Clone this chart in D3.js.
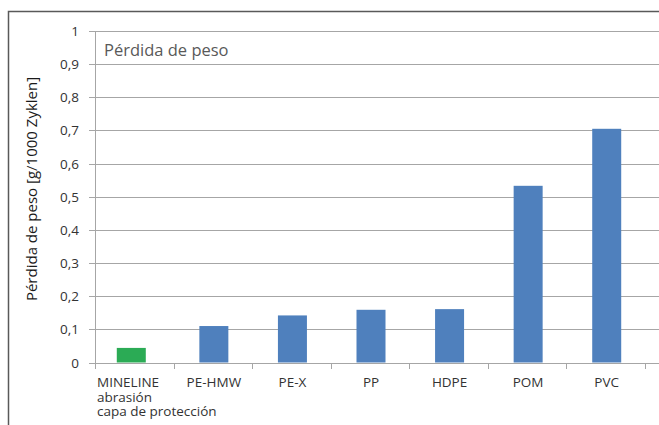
<!DOCTYPE html>
<html>
<head>
<meta charset="utf-8">
<script src="https://cdn.jsdelivr.net/npm/d3@7"></script>
<style>
  body { margin: 0; background: #fff; }
  svg { display: block; font-family: "Open Sans", sans-serif; }
</style>
</head>
<body>
<script>
// data
var categories = ['MINELINE', 'PE-HMW', 'PE-X', 'PP', 'HDPE', 'POM', 'PVC'];
var catLines = [['MINELINE', 'abrasión', 'capa de protección'], ['PE-HMW'], ['PE-X'], ['PP'], ['HDPE'], ['POM'], ['PVC']];
var values = [0.044, 0.11, 0.142, 0.159, 0.161, 0.533, 0.705];
var barColors = ['#2BAB55', '#4F80BD', '#4F80BD', '#4F80BD', '#4F80BD', '#4F80BD', '#4F80BD'];
var yTicks = [0, 0.1, 0.2, 0.3, 0.4, 0.5, 0.6, 0.7, 0.8, 0.9, 1];

var w = 659;
var h = 425;
var plotLeft = 95, plotRight = 645, plotTop = 31, plotBottom = 362.5;

var svg = d3.select('body')
    .append('svg')
    .attr('width', w)
    .attr('height', h);

// outer frame (cropped at right and bottom)
svg.append('path')
    .attr('d', 'M8.5,' + h + 'V11.5H' + w)
    .attr('fill', 'none')
    .attr('stroke', '#595959')
    .attr('stroke-width', 1.5);

var x = d3.scaleBand()
    .domain(categories)
    .range([plotLeft, plotRight])
    .paddingInner(0)
    .paddingOuter(0);

var y = d3.scaleLinear()
    .domain([0, 1])
    .range([plotBottom, plotTop]);

// gridlines
svg.selectAll('line.grid')
    .data(yTicks)
    .enter()
    .append('line')
    .attr('class', 'grid')
    .attr('x1', plotLeft - 6)
    .attr('x2', w)
    .attr('y1', function(d){ return Math.round(y(d)) + 0.5; })
    .attr('y2', function(d){ return Math.round(y(d)) + 0.5; })
    .attr('stroke', '#a6a6a6')
    .attr('stroke-width', 1);

// y axis line
svg.append('line')
    .attr('x1', plotLeft + 0.5).attr('x2', plotLeft + 0.5)
    .attr('y1', Math.round(y(1)))
    .attr('y2', Math.round(y(0)) + 6)
    .attr('stroke', '#a6a6a6');

// x ticks at band edges
var edges = categories.map(function(c){ return x(c); }).concat([plotRight]);
svg.selectAll('line.xtick')
    .data(edges)
    .enter()
    .append('line')
    .attr('class', 'xtick')
    .attr('x1', function(d){ return Math.round(d) + 0.5; })
    .attr('x2', function(d){ return Math.round(d) + 0.5; })
    .attr('y1', Math.round(y(0)))
    .attr('y2', Math.round(y(0)) + 6)
    .attr('stroke', '#a6a6a6');

// bars
var barW = 29;
svg.selectAll('rect')
    .data(values)
    .enter()
    .append('rect')
    .attr('x', function(d, i){ return x(categories[i]) + x.bandwidth() / 2 - barW / 2 + (i === 0 ? -3 : 1); })
    .attr('y', function(d){ return y(d); })
    .attr('width', barW)
    .attr('height', function(d){ return y(0) - y(d); })
    .attr('fill', function(d, i){ return barColors[i]; });

// y tick labels
svg.selectAll('text.ylab')
    .data(yTicks)
    .enter()
    .append('text')
    .attr('class', 'ylab')
    .attr('x', 79)
    .attr('y', function(d){ return y(d) + 5; })
    .attr('text-anchor', 'end')
    .attr('font-size', '13.5px')
    .attr('fill', '#333')
    .text(function(d){ return d === 0 || d === 1 ? d : d3.format('.1f')(d).replace('.', ','); });

// x labels
svg.selectAll('text.xlab')
    .data(catLines)
    .enter()
    .append('text')
    .attr('class', 'xlab')
    .attr('x', function(d, i){ return d.length > 1 ? x(categories[i]) + 2 : x(categories[i]) + x.bandwidth() / 2 + 1; })
    .attr('y', 387)
    .attr('text-anchor', function(d){ return d.length > 1 ? 'start' : 'middle'; })
    .attr('font-size', '13.5px')
    .attr('fill', '#333')
    .each(function(d){
        var t = d3.select(this);
        var xx = t.attr('x');
        d.forEach(function(line, j){
            t.append('tspan')
                .attr('x', xx)
                .attr('dy', j === 0 ? 0 : 14.5)
                .text(line);
        });
    });

// chart title inside plot
svg.append('text')
    .attr('x', 104)
    .attr('y', 56)
    .attr('font-size', '16.5px')
    .attr('fill', '#595959')
    .text('Pérdida de peso');

// y axis title
svg.append('text')
    .attr('transform', 'translate(37,' + 189 + ') rotate(-90)')
    .attr('text-anchor', 'middle')
    .attr('font-size', '15px')
    .attr('font-weight', 500)
    .attr('fill', '#1a1a1a')
    .text('Pérdida de peso [g/1000 Zyklen]');
</script>
</body>
</html>
